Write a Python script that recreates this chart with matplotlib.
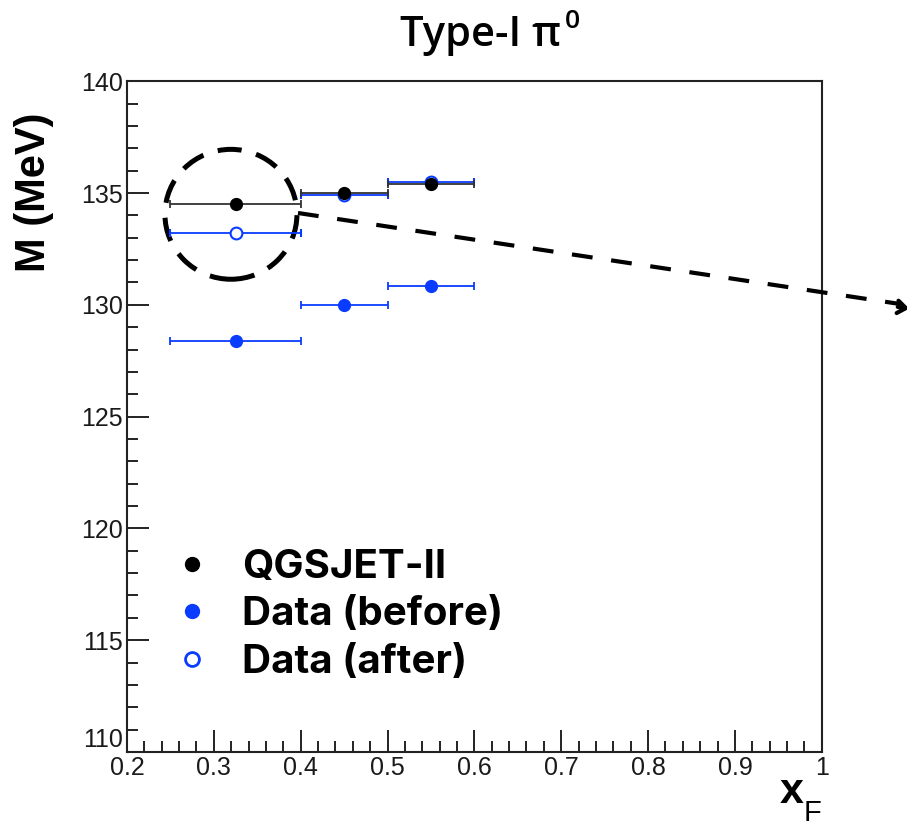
import matplotlib
matplotlib.use("Agg")
import matplotlib.pyplot as plt
from matplotlib.lines import Line2D
from matplotlib.patches import Ellipse
from matplotlib.ticker import MultipleLocator, FuncFormatter

# x_F bins (centre, half width)
xf = [0.325, 0.45, 0.55]
xf_err = [0.075, 0.05, 0.05]

# reconstructed pi0 mass (MeV)
m_qgsjet = [134.5, 135.0, 135.4]
m_before = [128.4, 130.0, 130.85]
m_after = [133.2, 134.9, 135.5]

labels = ["QGSJET-II", "Data (before)", "Data (after)"]

BLUE = "#0a3cff"
FONT = "Liberation Sans"

fig = plt.figure(figsize=(9.07, 8.26), dpi=100)
ax = fig.add_axes([0.140, 0.0896, 0.766, 0.812])

common = dict(ls="none", capsize=3, elinewidth=1.3, capthick=1.3, markersize=8.5)
ax.errorbar(xf, m_before, xerr=xf_err, marker="o", color=BLUE, **common)
ax.errorbar(xf, m_after, xerr=xf_err, marker="o", color=BLUE,
            mfc="white", mec=BLUE, mew=1.5, **common)
ax.errorbar(xf, m_qgsjet, xerr=xf_err, marker="o", color="black",
            ecolor="#333333", **common)

ax.set_xlim(0.2, 1.0)
ax.set_ylim(110, 140)
ax.xaxis.set_major_locator(MultipleLocator(0.1))
ax.xaxis.set_minor_locator(MultipleLocator(0.02))
ax.yaxis.set_major_locator(MultipleLocator(5))
ax.yaxis.set_minor_locator(MultipleLocator(1))
ax.xaxis.set_major_formatter(FuncFormatter(lambda v, p: f"{v:g}"))
ax.tick_params(which="both", direction="in", top=False, right=False,
               width=1.4, color="#222222", labelsize=18,
               labelcolor="#1a1a1a")
ax.tick_params(which="major", length=16)
ax.tick_params(which="minor", length=8)
ax.tick_params(axis="y", pad=3)
ax.tick_params(axis="x", pad=3)
for sp in ax.spines.values():
    sp.set_linewidth(1.5)
    sp.set_color("#222222")

# legend
handles = [
    Line2D([], [], ls="none", marker="o", ms=10, color="black"),
    Line2D([], [], ls="none", marker="o", ms=10, color=BLUE),
    Line2D([], [], ls="none", marker="o", ms=10, mfc="white", mec=BLUE, mew=2),
]
ax.legend(handles, labels, loc="lower left", bbox_to_anchor=(0.012, 0.052),
          frameon=False, handlelength=1.0, handletextpad=0.75,
          labelspacing=0.26, prop=dict(family=["Inter", FONT], weight="bold", size=29))

# highlight circle around the first bin
ax.add_patch(Ellipse((0.3197, 134.05), 0.152, 5.81, fill=False, lw=3.6,
                     ls=(0, (4.8, 3)), color="black", clip_on=False))

# dashed arrow leaving the figure
fig.add_artist(Line2D([298 / 907, 900 / 907], [1 - 213 / 826, 1 - 304 / 826],
                      transform=fig.transFigure, color="black", lw=3,
                      ls=(0, (5, 4.5))))
ax.annotate("", xy=(912 / 907, 1 - 309 / 826), xytext=(895 / 907, 1 - 306.5 / 826),
            xycoords="figure fraction", textcoords="figure fraction",
            arrowprops=dict(arrowstyle="->,head_length=0.6,head_width=0.45",
                            lw=3, color="black"))

# labels
fig.text(0.441, 0.958, "Type-I π", ha="left", va="center",
         family="Open Sans", weight="semibold", size=30)
fig.text(0.623, 0.974, "0", ha="left", va="center",
         family="Open Sans", weight="semibold", size=19)
fig.text(0.0375, 0.767, "M (MeV)", ha="center", va="center", rotation=90,
         family=FONT, weight="bold", size=30)
fig.text(0.860, 0.028, "x", ha="left", va="baseline",
         family=FONT, weight="bold", size=31)
fig.text(0.886, 0.006, "F", ha="left", va="baseline",
         family=FONT, size=21)

fig.canvas.draw()
for lab in ax.get_xticklabels() + ax.get_yticklabels():
    lab.set_family(FONT)
# lowest y label sits above its tick so it clears the x labels
for tick in ax.yaxis.get_major_ticks():
    if abs(tick.get_loc() - 110) < 1e-6:
        tick.label1.set_va("bottom")

fig.savefig("out.png", dpi=100)
